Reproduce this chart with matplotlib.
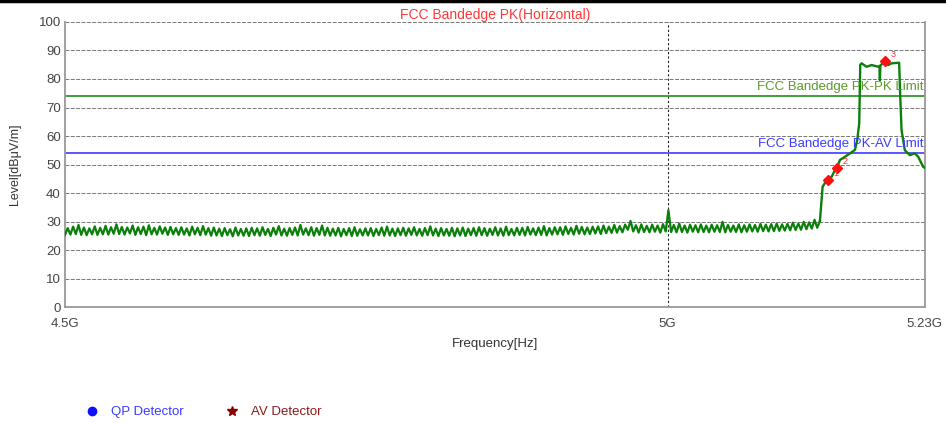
import numpy as np
import matplotlib
matplotlib.use("Agg")
import matplotlib.pyplot as plt
from matplotlib.lines import Line2D
from matplotlib.ticker import FixedLocator, NullLocator

plt.rcParams['font.family'] = ['Liberation Sans', 'DejaVu Sans']
plt.rcParams['path.simplify'] = False

# sweep below the band edge (GHz), levels in dBuV/m
noise_start = 4.5
noise_stop = 5.1349
noise_levels = [
    25.2, 27.7, 25.4, 28.2, 25.6, 28.8, 25.3, 27.9, 25.2, 27.6, 25.5, 28.3, 25.3, 27.8,
    25.5, 28.5, 25.4, 28.0, 25.7, 29.0, 25.6, 28.1, 25.4, 27.9, 25.8, 28.6, 25.3, 28.0,
    25.6, 28.2, 25.2, 28.7, 25.5, 27.8, 25.4, 28.3, 25.7, 27.9, 25.3, 28.1, 25.5, 27.7,
    25.3, 28.0, 25.4, 27.6, 25.1, 28.2, 25.5, 27.8, 25.2, 28.4, 25.4, 27.7, 25.0, 27.9,
    25.1, 27.5, 24.9, 27.7, 25.2, 27.3, 24.8, 27.9, 25.1, 27.4, 25.0, 27.6, 24.9, 27.8,
    25.2, 27.6, 25.0, 28.0, 25.3, 27.4, 24.9, 27.8, 25.4, 28.4, 25.1, 27.5, 25.0, 27.7,
    25.3, 27.9, 25.1, 28.8, 25.4, 27.6, 25.2, 28.0, 25.0, 27.7, 25.3, 28.6, 25.1, 27.8,
    25.0, 27.5, 25.1, 27.8, 24.8, 27.4, 25.2, 27.7, 24.9, 28.0, 25.0, 27.3, 25.1, 27.6,
    25.1, 27.7, 24.9, 27.4, 25.2, 27.9, 25.0, 28.2, 25.1, 27.5, 24.9, 27.6, 25.2, 27.8,
    25.0, 27.6, 25.3, 28.0, 25.1, 27.4, 25.0, 27.7, 25.2, 28.3, 25.1, 27.5, 24.9, 27.7,
    25.1, 27.4, 25.0, 27.8, 24.8, 27.6, 25.1, 27.9, 24.9, 27.5, 25.2, 27.7, 25.0, 28.0,
    25.2, 27.7, 25.0, 27.5, 25.3, 28.0, 25.1, 27.6, 25.0, 28.2, 25.2, 27.4, 25.1, 27.8,
    25.3, 27.8, 25.1, 28.1, 25.4, 27.6, 25.2, 27.9, 25.3, 28.4, 25.1, 27.7, 25.4, 28.0,
    25.5, 28.0, 25.3, 28.3, 25.6, 27.8, 25.4, 28.5, 25.7, 28.1, 25.5, 27.9, 25.6, 28.2,
    25.8, 28.3, 25.6, 28.6, 25.9, 28.2, 26.0, 28.8, 26.1, 28.4, 26.2, 28.9, 27.1, 30.2,
    26.5, 28.7, 26.1, 29.0, 26.3, 28.5, 26.2, 28.9, 26.4, 28.6, 26.1, 29.1, 26.5, 34.0,
    26.3, 28.8, 26.2, 29.3, 26.3, 28.6, 26.1, 28.9, 26.4, 28.7, 26.2, 29.0, 26.3, 28.6,
    26.2, 28.9, 26.4, 28.7, 26.3, 29.9, 26.2, 28.8, 26.4, 28.6, 26.3, 29.0, 26.2, 28.7,
    26.4, 29.0, 26.5, 28.8, 26.4, 29.2, 26.6, 28.9, 26.5, 29.1, 26.6, 29.3, 26.7, 29.0,
    26.8, 29.2, 26.9, 29.6, 27.0, 29.3, 27.1, 29.9, 27.3, 29.7, 27.5, 30.6, 27.8, 30.2,
]

# band edge part of the trace
edge_freq = [5.1373, 5.1394, 5.1418, 5.1454, 5.1484, 5.1499, 5.1529, 5.1574, 5.1619,
             5.1664, 5.1685, 5.1703, 5.1712, 5.1724, 5.1770, 5.1815, 5.1875, 5.1886,
             5.1890, 5.1894, 5.1899, 5.1936, 5.1965, 5.1996, 5.2065, 5.2073, 5.2087,
             5.2117, 5.2163, 5.2209, 5.2239, 5.2284, 5.2300]
edge_levels = [42.2, 43.5, 44.6, 45.7, 48.0, 48.7, 51.6, 52.7, 53.9,
               55.1, 58.6, 64.5, 84.9, 85.5, 84.3, 84.9, 84.3, 84.6,
               79.6, 84.6, 84.9, 86.4, 84.9, 85.5, 85.7, 76.0, 62.0,
               55.0, 53.3, 53.9, 52.7, 49.2, 48.8]

marker_freq = [5.1418, 5.1499, 5.1936]
marker_level = [44.6, 48.7, 86.4]
marker_id = ['1', '2', '3']

pk_limit = 74
av_limit = 54

noise_freq = np.geomspace(noise_start, noise_stop, len(noise_levels))

fig = plt.figure(figsize=(9.46, 4.23), dpi=100)
ax = fig.add_axes([0.0687, 0.2742, 0.909, 0.6738])

ax.axhline(pk_limit, color='#2f9a2f', lw=1.3, zorder=2)
ax.axhline(av_limit, color='#4b4bff', lw=1.3, zorder=2)
ax.plot(noise_freq, noise_levels, color='#0a800a', lw=1.6, zorder=3)
ax.plot(np.concatenate([noise_freq[-1:], edge_freq]),
        np.concatenate([noise_levels[-1:], edge_levels]),
        color='#0a800a', lw=1.7, zorder=3)
ax.plot(marker_freq, marker_level, 'D', color='#ff1010', ms=5.5, zorder=4)
for f, l, t in zip(marker_freq, marker_level, marker_id):
    ax.annotate(t, (f, l), xytext=(4, 3), textcoords='offset points',
                color='#ff3030', fontsize=6.5, zorder=5)

ax.text(5.2285, pk_limit + 1.0, 'FCC Bandedge PK-PK Limit', color='#5c9a2c',
        fontsize=9.5, ha='right', va='bottom')
ax.text(5.2285, av_limit + 1.0, 'FCC Bandedge PK-AV Limit', color='#3c3cff',
        fontsize=9.5, ha='right', va='bottom')

ax.set_xscale('log')
ax.set_xlim(4.5, 5.23)
ax.set_ylim(0, 100)
ax.xaxis.set_major_locator(FixedLocator([4.5, 5.0, 5.23]))
ax.xaxis.set_minor_locator(NullLocator())
ax.set_xticklabels(['4.5G', '5G', '5.23G'])
ax.set_yticks(range(0, 101, 10))

ax.grid(axis='y', color='#777777', ls=(0, (4, 1.5)), lw=0.7)
ax.axvline(5.0, color='#222222', ls=(0, (2, 2)), lw=0.8, zorder=1)

ax.tick_params(length=0, labelsize=9.5, colors='#444444')
ax.tick_params(axis='x', pad=8)
ax.tick_params(axis='y', pad=3)
for s in ['left', 'bottom', 'right']:
    ax.spines[s].set_color('#999999')
    ax.spines[s].set_linewidth(1.3)
ax.spines['top'].set_visible(False)

ax.set_title('FCC Bandedge PK(Horizontal)', color='#ff3838', fontsize=10, pad=2)
ax.set_xlabel('Frequency[Hz]', fontsize=9.5, color='#333333', labelpad=6)
ax.set_ylabel('Level[dB\u03bcV/m]', fontsize=9, color='#333333', labelpad=13)

handles = [Line2D([], [], ls='', marker='o', color='#1010ff', ms=6),
           Line2D([], [], ls='', marker='*', color='#8b0000', ms=7)]
leg = fig.legend(handles, ['QP Detector', 'AV Detector'], loc='center left',
                 bbox_to_anchor=(0.078, 0.026), ncol=2, frameon=False,
                 fontsize=9.5, handletextpad=0.9, columnspacing=3.2, handlelength=1.0)
leg.get_texts()[0].set_color('#3a3aff')
leg.get_texts()[1].set_color('#8b1a1a')

fig.add_artist(Line2D([0, 1], [0.998, 0.998], color='black', lw=2.5))

fig.savefig('out.png', dpi=100)
